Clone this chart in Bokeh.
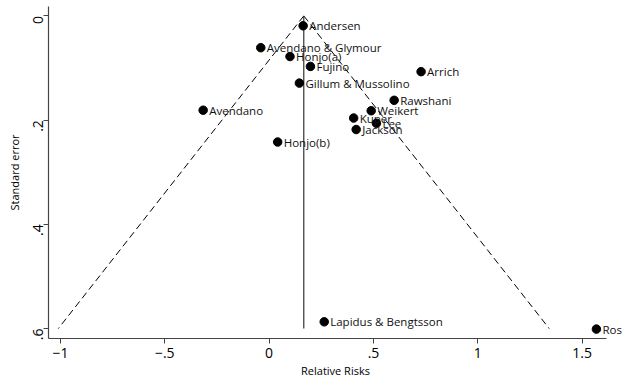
import math
from bokeh.plotting import figure
from bokeh.models import Range1d, FixedTicker, ColumnDataSource
from bokeh.core.properties import value
from bokeh.embed import file_html
from bokeh.resources import INLINE

# ---- data ----
studies = ["Andersen", "Avendano & Glymour", "Honjo(a)", "Fujino", "Gillum & Mussolino",
           "Avendano", "Honjo(b)", "Arrich", "Rawshani", "Weikert", "Kuper", "Lee",
           "Jackson", "Lapidus & Bengtsson", "Ros"]
relative_risk = [0.163, -0.040, 0.100, 0.198, 0.145,
                 -0.316, 0.041, 0.728, 0.599, 0.489, 0.405, 0.514,
                 0.417, 0.264, 1.568]
standard_error = [0.019, 0.061, 0.078, 0.097, 0.129,
                  0.181, 0.242, 0.107, 0.162, 0.182, 0.196, 0.206,
                  0.218, 0.587, 0.601]
pooled_effect = 0.166
se_max = 0.6
z95 = 1.96

x_ticks = [-1, -0.5, 0, 0.5, 1, 1.5]
x_tick_labels = ["\u22121", "\u2212.5", "0", ".5", "1", "1.5"]
y_ticks = [0, 0.2, 0.4, 0.6]
y_tick_labels = ["0", ".2", ".4", ".6"]

FONT = "Open Sans"
X_START, X_AXIS_END, X_END = -1.057, 1.616, 1.693

p = figure(width=622, height=380, output_backend="svg", toolbar_location=None,
           x_range=Range1d(X_START, X_END), y_range=Range1d(0.619, -0.018),
           min_border_left=48, min_border_right=0, min_border_top=6, min_border_bottom=40)
p.outline_line_color = None
p.xgrid.visible = False
p.ygrid.visible = False
p.background_fill_color = "white"
p.border_fill_color = "white"

# pseudo 95% confidence limits
p.line([pooled_effect, pooled_effect - z95 * se_max], [0, se_max],
       line_color="black", line_width=1, line_dash="7 4")
p.line([pooled_effect, pooled_effect + z95 * se_max], [0, se_max],
       line_color="black", line_width=1, line_dash="7 4")
# pooled effect
p.line([pooled_effect, pooled_effect], [0, se_max], line_color="#333333", line_width=1.2)

src = ColumnDataSource(dict(x=relative_risk, y=standard_error, name=studies))
p.scatter("x", "y", source=src, size=8.5, fill_color="black", line_color="black")
p.text("x", "y", text="name", source=src, x_offset=6, text_baseline="middle",
       text_align="left", text_font=value(FONT), text_font_size="11.5px", text_color="#111111")

# axes
xa = p.xaxis[0]
xa.ticker = FixedTicker(ticks=x_ticks)
xa.major_label_overrides = {t: l for t, l in zip(x_ticks, x_tick_labels)}
xa.axis_label = "Relative Risks"
xa.bounds = (X_START, X_AXIS_END)
ya = p.yaxis[0]
ya.ticker = FixedTicker(ticks=y_ticks)
ya.major_label_overrides = {t: l for t, l in zip(y_ticks, y_tick_labels)}
ya.axis_label = "Standard error"
ya.major_label_orientation = math.pi / 2

for ax in (xa, ya):
    ax.axis_line_color = "#444444"
    ax.axis_line_width = 1.2
    ax.major_tick_line_color = "#444444"
    ax.major_tick_out = 5
    ax.major_tick_in = 0
    ax.minor_tick_line_color = None
    ax.major_label_text_font = FONT
    ax.major_label_text_font_size = "14px"
    ax.major_label_text_color = "black"
    ax.axis_label_text_font = FONT
    ax.axis_label_text_font_size = "11px"
    ax.axis_label_text_font_style = "normal"
    ax.axis_label_text_color = "black"

xa.major_label_standoff = 4
xa.axis_label_standoff = 2
ya.major_label_standoff = 5
ya.axis_label_standoff = 4

open("out.html", "w").write(file_html(p, INLINE))
